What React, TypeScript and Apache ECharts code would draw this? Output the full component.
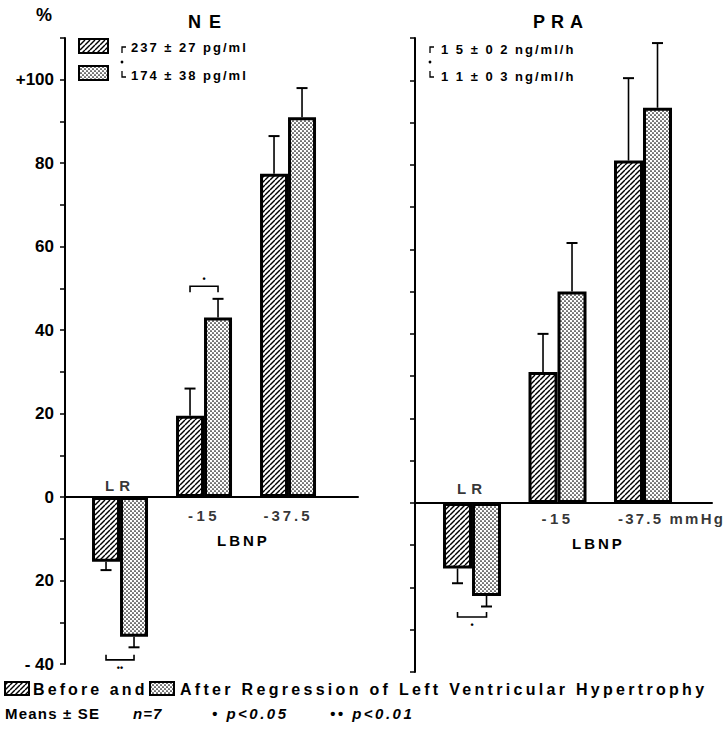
import React, { useEffect, useRef } from "react";
import * as echarts from "echarts";

// ---------- data ----------
const categories = ["LR", "-15", "-37.5"];
const xUnit = "mmHg";
const neBefore = [-15.5, 19.5, 77.5];
const neBeforeSE = [2, 6.5, 9];
const neAfter = [-33.5, 43, 91];
const neAfterSE = [2.5, 4.5, 7];
const praBefore = [-15.5, 31, 81];
const praBeforeSE = [3.5, 9, 19.5];
const praAfter = [-22, 50, 93.5];
const praAfterSE = [2.5, 11.5, 15.3];
const yTickValues = [100, 80, 60, 40, 20, 0, -20, -40];
const yTickTexts = ["+100", "80", "60", "40", "20", "0", "20", "- 40"];
const neSignif = [
  { cat: 1, value: 50.5, side: "above", mark: "•" },
  { cat: 0, value: -39, side: "below", mark: "••" },
];
const praSignif = [{ cat: 0, value: -27, side: "below", mark: "•" }];
const neBaseline = ["237 ± 27 pg/ml", "174 ± 38 pg/ml"];
const praBaseline = ["1 5 ± 0 2 ng/ml/h", "1 1 ± 0 3 ng/ml/h"];
const legendNames = ["Before and", "After Regression of Left Ventricular Hypertrophy"];
const footnotes = ["Means ± SE", "n=7", "• p<0.05", "•• p<0.01"];

const FONT = '"Liberation Sans", Arial, sans-serif';

const letterSpacing: Record<string, string> = {
  NE: "8px",
  PRA: "6px",
  LR: "5px",
  LBNP: "3px",
  "-15": "3.5px",
  "-37.5": "3px",
  "-37.5 mmHg": "2.2px",
  "237 ± 27 pg/ml": "2px",
  "174 ± 38 pg/ml": "2px",
  "1 5 ± 0 2 ng/ml/h": "2px",
  "1 1 ± 0 3 ng/ml/h": "2px",
  "Before and": "3.1px",
  "After Regression of Left Ventricular Hypertrophy": "3.3px",
  "Means ± SE": "1.2px",
  "n=7": "1px",
  "• p<0.05": "2.5px",
  "•• p<0.01": "2.5px",
};

function makeHatch() {
  const c = document.createElement("canvas");
  c.width = 5;
  c.height = 5;
  const g = c.getContext("2d")!;
  g.fillStyle = "#fff";
  g.fillRect(0, 0, 5, 5);
  g.strokeStyle = "#000";
  g.lineWidth = 1.4;
  for (const o of [-5, 0, 5]) {
    g.beginPath();
    g.moveTo(o, 5);
    g.lineTo(o + 5, 0);
    g.stroke();
  }
  return c;
}

function makeDots() {
  const c = document.createElement("canvas");
  c.width = 4;
  c.height = 4;
  const g = c.getContext("2d")!;
  g.fillStyle = "#fff";
  g.fillRect(0, 0, 4, 4);
  g.fillStyle = "#000";
  for (const [x, y] of [[1, 1], [3, 3]]) {
    g.beginPath();
    g.arc(x, y, 0.85, 0, Math.PI * 2);
    g.fill();
  }
  return c;
}

export default function App() {
  const ref = useRef<HTMLDivElement>(null);
  useEffect(() => {
    const el = ref.current!;
    const chart = echarts.init(el, null, { renderer: "svg" });
    const hatch: any = { image: makeHatch(), repeat: "repeat", imageWidth: 5, imageHeight: 5 };
    const dots: any = { image: makeDots(), repeat: "repeat", imageWidth: 4, imageHeight: 4 };

    const barSeries = (idx: number, data: number[], pattern: any, name: string, w: number) => ({
      type: "bar",
      name,
      xAxisIndex: idx,
      yAxisIndex: idx,
      data: data.map((v, i) => [i, v]),
      barWidth: w,
      barGap: "0%",
      silent: true,
      itemStyle: { color: pattern, borderColor: "#000", borderWidth: 3 },
    });

    const errSeries = (idx: number, means: number[], ses: number[], offset: number) => ({
      type: "custom",
      xAxisIndex: idx,
      yAxisIndex: idx,
      silent: true,
      z: 3,
      data: means.map((m, i) => [i, m, m + Math.sign(m) * ses[i]]),
      renderItem: (_p: any, api: any) => {
        const p0 = api.coord([api.value(0), api.value(1)]);
        const p1 = api.coord([api.value(0), api.value(2)]);
        const x = p0[0] + offset;
        return {
          type: "group",
          children: [
            { type: "line", shape: { x1: x, y1: p0[1], x2: x, y2: p1[1] }, style: { stroke: "#000", lineWidth: 1.6 } },
            { type: "line", shape: { x1: x - 5.5, y1: p1[1], x2: x + 5.5, y2: p1[1] }, style: { stroke: "#000", lineWidth: 2 } },
          ],
        };
      },
    });

    const sigSeries = (idx: number, sigs: any[], half: number) => ({
      type: "custom",
      xAxisIndex: idx,
      yAxisIndex: idx,
      silent: true,
      z: 3,
      data: sigs.map((s) => [s.cat, s.value]),
      renderItem: (params: any, api: any) => {
        const s = sigs[params.dataIndex];
        const p = api.coord([api.value(0), api.value(1)]);
        const leg = s.side === "above" ? 6 : -5;
        const ty = s.side === "above" ? -7 : 8;
        return {
          type: "group",
          children: [
            {
              type: "polyline",
              shape: {
                points: [
                  [p[0] - half, p[1] + leg],
                  [p[0] - half, p[1]],
                  [p[0] + half, p[1]],
                  [p[0] + half, p[1] + leg],
                ],
              },
              style: { stroke: "#000", lineWidth: 1.6, fill: "none" },
            },
            {
              type: "text",
              style: {
                text: s.mark,
                x: p[0],
                y: p[1] + ty,
                align: "center",
                verticalAlign: "middle",
                textAlign: "center",
                textVerticalAlign: "middle",
                font: `bold 9px ${FONT}`,
                fill: "#000",
              },
            },
          ],
        };
      },
    });

    const catSeries = (idx: number, cfg: any[], withUnit: boolean) => ({
      type: "scatter",
      xAxisIndex: idx,
      yAxisIndex: idx,
      silent: true,
      symbolSize: 1,
      itemStyle: { color: "rgba(0,0,0,0)" },
      data: categories.map((_c, i) => ({ value: [i, 0], label: cfg[i] })),
      label: {
        show: true,
        formatter: (p: any) =>
          categories[p.dataIndex] + (withUnit && p.dataIndex === categories.length - 1 ? " " + xUnit : ""),
        fontSize: 15,
        fontWeight: "bold",
        color: "#000",
        fontFamily: FONT,
      },
    });

    const txt = (x: number, y: number, text: string, size: number, extra: any = {}) => ({
      type: "text",
      silent: true,
      style: {
        text,
        x,
        y,
        fill: "#000",
        font: `${extra.italic ? "italic " : ""}bold ${size}px ${FONT}`,
        align: extra.align || "left",
        textAlign: extra.align || "left",
        verticalAlign: "middle",
        textVerticalAlign: "middle",
      },
    });
    const box = (x: number, y: number, w: number, h: number, fill: any) => ({
      type: "rect",
      silent: true,
      shape: { x, y, width: w, height: h },
      style: { fill, stroke: "#000", lineWidth: 2 },
    });
    const bracket = (x: number, y1: number, y2: number) => [
      { type: "polyline", silent: true, shape: { points: [[x, y1 + 6], [x, y1], [x + 4, y1]] }, style: { stroke: "#000", lineWidth: 1.3, fill: "none" } },
      { type: "circle", silent: true, shape: { cx: x, cy: (y1 + y2) / 2, r: 1.4 }, style: { fill: "#000" } },
      { type: "polyline", silent: true, shape: { points: [[x, y2 - 6], [x, y2], [x + 4, y2]] }, style: { stroke: "#000", lineWidth: 1.3, fill: "none" } },
    ];

    const yAxisBase = (idx: number, showLabel: boolean) => ({
      type: "value",
      gridIndex: idx,
      min: -40,
      max: 110,
      interval: 10,
      axisLine: { show: true, onZero: false, lineStyle: { color: "#000", width: 2 } },
      axisTick: { show: true, length: 5, lineStyle: { color: "#000", width: 1.5 } },
      splitLine: { show: false },
      axisLabel: {
        show: showLabel,
        margin: 11,
        fontSize: 17,
        fontWeight: "bold",
        color: "#000",
        fontFamily: FONT,
        formatter: (v: number) => {
          const k = yTickValues.indexOf(v);
          return k >= 0 ? yTickTexts[k] : "";
        },
      },
    });
    const xAxisBase = (idx: number, min: number, max: number) => ({
      type: "value",
      gridIndex: idx,
      min,
      max,
      axisLine: { show: true, onZero: true, lineStyle: { color: "#000", width: 2 } },
      axisTick: { show: false },
      axisLabel: { show: false },
      splitLine: { show: false },
    });

    const option: any = {
      animation: false,
      backgroundColor: "#fff",
      textStyle: { fontFamily: FONT, fontWeight: "bold", color: "#000" },
      grid: [
        { left: 65, top: 38, width: 293, height: 626 },
        { left: 415, top: 38, width: 297, height: 634 },
      ],
      xAxis: [xAxisBase(0, -0.655, 2.833), xAxisBase(1, -0.667, 2.807)],
      yAxis: [yAxisBase(0, true), yAxisBase(1, false)],
      series: [
        barSeries(0, neBefore, hatch, legendNames[0], 28),
        barSeries(0, neAfter, dots, legendNames[1], 28),
        barSeries(1, praBefore, hatch, legendNames[0] + " ", 29),
        barSeries(1, praAfter, dots, legendNames[1] + " ", 29),
        errSeries(0, neBefore, neBeforeSE, -14),
        errSeries(0, neAfter, neAfterSE, 14),
        errSeries(1, praBefore, praBeforeSE, -14.5),
        errSeries(1, praAfter, praAfterSE, 14.5),
        sigSeries(0, neSignif, 14),
        sigSeries(1, praSignif, 14.5),
        catSeries(0, [
          { position: "top", distance: 4 },
          { position: "bottom", distance: 10 },
          { position: "bottom", distance: 10 },
        ], false),
        catSeries(1, [
          { position: "top", distance: 6 },
          { position: "bottom", distance: 8 },
          { position: "bottom", distance: 8, align: "left", offset: [-25, 0] },
        ], true),
      ],
      graphic: [
        txt(36, 15, "%", 18),
        txt(188, 22, "NE", 18),
        txt(533, 22, "PRA", 18),
        box(79, 39, 29, 14, hatch),
        box(79, 66, 29, 14, dots),
        ...bracket(122, 47, 77),
        txt(131, 47, neBaseline[0], 13),
        txt(131, 75, neBaseline[1], 13),
        ...bracket(430, 47, 77),
        txt(441, 49, praBaseline[0], 13),
        txt(441, 76, praBaseline[1], 13),
        txt(217, 540, "LBNP", 15),
        txt(572, 543, "LBNP", 15),
        box(5, 682, 24, 13, hatch),
        txt(33, 689, legendNames[0], 16),
        box(150, 682, 24, 13, dots),
        txt(180, 689, legendNames[1], 16),
        txt(5, 713, footnotes[0], 15),
        txt(133, 713, footnotes[1], 15, { italic: true }),
        txt(212, 713, footnotes[2], 15, { italic: true }),
        txt(330, 713, footnotes[3], 15, { italic: true }),
      ],
    };
    chart.setOption(option);
    const applySpacing = () => {
      el.querySelectorAll("text").forEach((t) => {
        const s = letterSpacing[(t.textContent || "").trim()];
        if (s) (t as SVGTextElement).style.letterSpacing = s;
      });
    };
    applySpacing();
    chart.on("finished", applySpacing);
    return () => chart.dispose();
  }, []);
  return (
    <div
      ref={ref}
      style={{ position: "fixed", left: 0, top: 0, width: 725, height: 744, background: "#fff" }}
    />
  );
}
